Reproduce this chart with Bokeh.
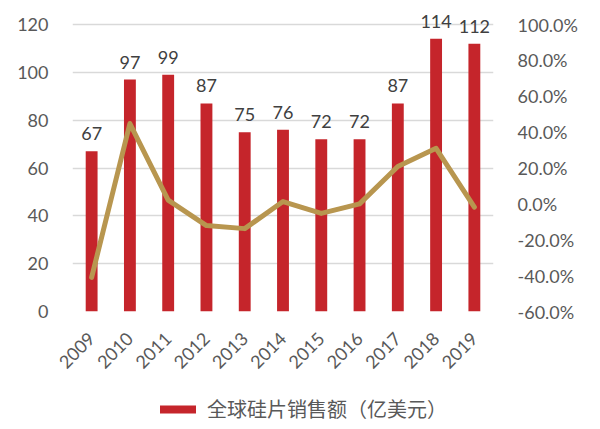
import math
from bokeh.plotting import figure
from bokeh.layouts import column
from bokeh.models import (ColumnDataSource, Range1d, LinearAxis, FixedTicker,
                          PrintfTickFormatter, Legend, LegendItem, FactorRange)
from bokeh.embed import file_html
from bokeh.resources import INLINE
from bokeh.core.properties import value

years = ["2009", "2010", "2011", "2012", "2013", "2014", "2015", "2016", "2017", "2018", "2019"]
sales = [67, 97, 99, 87, 75, 76, 72, 72, 87, 114, 112]
growth = [-41.0, 44.8, 2.1, -12.1, -13.8, 1.3, -5.3, 0.0, 20.8, 31.0, -1.8]
left_ticks = [0, 20, 40, 60, 80, 100, 120]
right_ticks = [-60, -40, -20, 0, 20, 40, 60, 80, 100]
legend_label = "全球硅片销售额（亿美元）"

BAR = "#C5252B"
LINE = "#B8964F"
TICK = "#595959"
FONT = "Lato"

# both ranges extended upward by the same fraction (room for data labels)
EXT = 24 / 287
y_lo, y_hi = 0, 120
r_lo, r_hi = -60, 100

src = ColumnDataSource(dict(x=years, sales=sales, growth=growth,
                            lbl=[str(v) for v in sales]))

p = figure(width=592, height=392, x_range=FactorRange(*years, range_padding=0),
           y_range=Range1d(y_lo, y_hi + (y_hi - y_lo) * EXT),
           output_backend="svg", toolbar_location=None,
           min_border_left=72, min_border_right=99, min_border_top=0, min_border_bottom=81)
p.outline_line_color = None
p.background_fill_color = "white"
p.border_fill_color = "white"
p.extra_y_ranges = {"pct": Range1d(r_lo, r_hi + (r_hi - r_lo) * EXT)}

bars = p.vbar(x="x", top="sales", width=0.31, source=src, fill_color=BAR, line_color=None)
p.line(x="x", y="growth", source=src, y_range_name="pct", line_color=LINE,
       line_width=5, line_join="round", line_cap="round")
p.text(x="x", y="sales", text="lbl", source=src, text_align="center", text_baseline="bottom",
       y_offset=-11, text_font=value(FONT), text_font_size="18px", text_color="#404040")

p.yaxis.ticker = FixedTicker(ticks=left_ticks)
p.xaxis.major_label_orientation = math.pi / 4
for ax in [p.xaxis[0], p.yaxis[0]]:
    ax.axis_line_color = None
    ax.major_tick_line_color = None
    ax.minor_tick_line_color = None
    ax.major_label_text_font = FONT
    ax.major_label_text_font_size = "18px"
    ax.major_label_text_color = TICK
p.yaxis.major_label_standoff = 18
p.xaxis.major_label_standoff = 18

ra = LinearAxis(y_range_name="pct", ticker=FixedTicker(ticks=right_ticks),
                formatter=PrintfTickFormatter(format="%.1f%%"))
ra.axis_line_color = None
ra.major_tick_line_color = None
ra.minor_tick_line_color = None
ra.major_label_text_font = FONT
ra.major_label_text_font_size = "18px"
ra.major_label_text_color = TICK
ra.major_label_standoff = 18
p.add_layout(ra, "right")

p.xgrid.grid_line_color = None
p.ygrid.grid_line_color = "#D9D9D9"
p.ygrid.grid_line_width = 1.5
p.ygrid.ticker = FixedTicker(ticks=left_ticks)

# legend strip below the chart; its bar renderer has zero-size bars lying
# outside its visible range, so it only supplies the legend swatch
lg = figure(width=592, height=34, x_range=p.x_range, y_range=Range1d(-2, -1),
            output_backend="svg", toolbar_location=None,
            min_border_left=72, min_border_right=99, min_border_top=0, min_border_bottom=0)
lg.axis.visible = False
lg.grid.visible = False
lg.outline_line_color = None
lg_bar = lg.vbar(x="x", top="sales", bottom="sales", width=0, source=src,
                 fill_color=BAR, line_color=None)
legend = Legend(items=[LegendItem(label=legend_label, renderers=[lg_bar])],
                location=(83, 3), orientation="horizontal",
                glyph_width=45, glyph_height=10, padding=0, margin=0, spacing=0,
                label_standoff=7, border_line_color=None, background_fill_alpha=0,
                label_text_font="Noto Sans CJK SC", label_text_font_size="20px",
                label_text_color=TICK)
lg.add_layout(legend, "center")

open("out.html", "w").write(file_html(column(p, lg, spacing=0), INLINE))
